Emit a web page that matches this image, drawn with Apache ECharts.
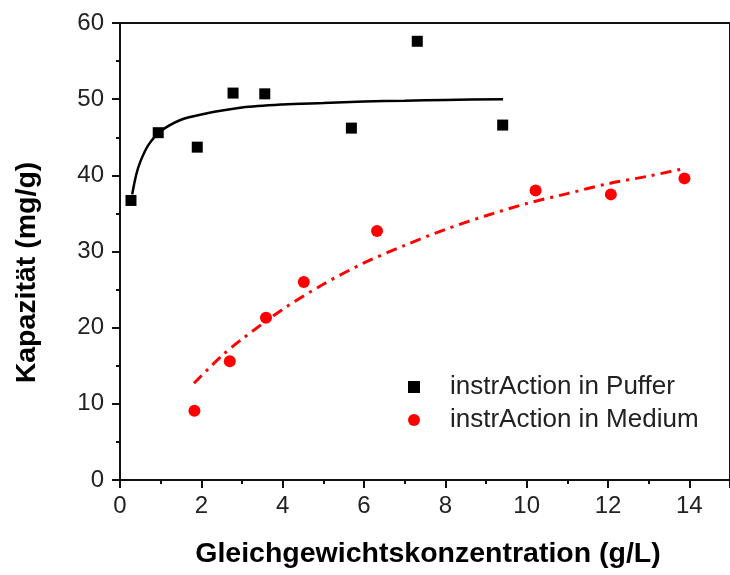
<!DOCTYPE html>
<html>
<head>
<meta charset="utf-8">
<title>Kapazität</title>
<script src="https://cdn.jsdelivr.net/npm/echarts@6/dist/echarts.min.js"></script>
<style>
  html, body { margin: 0; padding: 0; background: #fff; }
  #chart { width: 730px; height: 575px; }
</style>
</head>
<body>
<div id="chart"></div>
<script>
// Measured adsorption capacity, instrAction in buffer
const pufferX = [0.27, 0.94, 1.90, 2.78, 3.56, 5.69, 7.31, 9.41];
const pufferY = [36.7, 45.6, 43.7, 50.8, 50.7, 46.2, 57.6, 46.6];

// Measured adsorption capacity, instrAction in medium
const mediumX = [1.83, 2.70, 3.59, 4.52, 6.32, 10.22, 12.07, 13.88];
const mediumY = [9.1, 15.6, 21.3, 26.0, 32.7, 38.0, 37.5, 39.6];

// Isotherm fit curves (points along the drawn curves)
const pufferFitX = [0.30, 0.40, 0.50, 0.70, 1.0, 1.5, 2.0, 3.0, 4.0, 5.0, 6.0, 7.0, 8.0, 9.42];
const pufferFitY = [37.5, 40.1, 41.8, 44.0, 45.8, 47.3, 48.0, 48.9, 49.3, 49.5, 49.7, 49.8, 49.9, 50.0];
const mediumFitX = [1.82, 2.5, 3, 4, 5, 6, 7, 8, 9, 10, 11, 12, 13, 13.88];
const mediumFitY = [12.7, 16.3, 18.5, 22.4, 25.7, 28.5, 30.8, 32.9, 34.7, 36.3, 37.6, 38.9, 39.9, 40.9];

// Axis texts
const xTitle = 'Gleichgewichtskonzentration (g/L)';
const yTitle = 'Kapazität (mg/g)';
const nameP = 'instrAction in Puffer';
const nameM = 'instrAction in Medium';

const zip = (xs, ys) => xs.map((x, i) => [x, ys[i]]);

const FONT = '"Liberation Sans", Arial, sans-serif';
const AXIS_COLOR = '#111';

const chart = echarts.init(document.getElementById('chart'), null, { renderer: 'canvas' });

chart.setOption({
  animation: false,
  backgroundColor: '#fff',
  grid: {
    left: 120, top: 23, right: -7, bottom: 95,
    show: true, borderColor: AXIS_COLOR, borderWidth: 2,
    containLabel: false
  },
  xAxis: {
    type: 'value', min: 0, max: 15, interval: 2,
    axisLine: { show: true, onZero: false, lineStyle: { color: AXIS_COLOR, width: 2 } },
    axisTick: { show: true, inside: false, length: 8, lineStyle: { color: AXIS_COLOR, width: 2 } },
    minorTick: { show: true, splitNumber: 2, length: 4, lineStyle: { color: AXIS_COLOR, width: 2 } },
    splitLine: { show: false },
    axisLabel: { margin: 14, fontFamily: FONT, fontSize: 24, color: '#222', showMaxLabel: false }
  },
  yAxis: {
    type: 'value', min: 0, max: 60, interval: 10,
    axisLine: { show: true, onZero: false, lineStyle: { color: AXIS_COLOR, width: 2 } },
    axisTick: { show: true, inside: false, length: 8, lineStyle: { color: AXIS_COLOR, width: 2 } },
    minorTick: { show: true, splitNumber: 2, length: 4, lineStyle: { color: AXIS_COLOR, width: 2 } },
    splitLine: { show: false },
    axisLabel: { margin: 16, fontFamily: FONT, fontSize: 24, color: '#222' }
  },
  legend: {
    data: [nameP, nameM],
    orient: 'vertical',
    left: 403, top: 369,
    itemWidth: 12, itemHeight: 12,
    itemGap: 7,
    textStyle: { fontFamily: FONT, fontSize: 26, color: '#222', lineHeight: 26, padding: [0, 0, 0, 25] }
  },
  graphic: [
    {
      type: 'text', x: 428, y: 554.5,
      style: { text: xTitle, font: 'bold 28.5px ' + FONT, fill: '#000', textAlign: 'center', textVerticalAlign: 'middle' }
    },
    {
      type: 'text', x: 27, y: 272.5, rotation: Math.PI / 2,
      style: { text: yTitle, font: 'bold 28.5px ' + FONT, fill: '#000', textAlign: 'center', textVerticalAlign: 'middle' }
    }
  ],
  series: [
    {
      name: 'Puffer fit', type: 'line', data: zip(pufferFitX, pufferFitY),
      smooth: 0.3, showSymbol: false, silent: true,
      lineStyle: { color: '#000', width: 2.5 }, z: 2
    },
    {
      name: 'Medium fit', type: 'line', data: zip(mediumFitX, mediumFitY),
      smooth: 0.3, showSymbol: false, silent: true,
      lineStyle: { color: '#ff0000', width: 3, type: [11, 6, 3, 6] }, z: 2
    },
    {
      name: nameP, type: 'scatter', data: zip(pufferX, pufferY),
      symbol: 'rect', symbolSize: 11,
      itemStyle: { color: '#000', opacity: 1 }, z: 3
    },
    {
      name: nameM, type: 'scatter', data: zip(mediumX, mediumY),
      symbol: 'circle', symbolSize: 12,
      itemStyle: { color: '#ff0000', opacity: 1 }, z: 3
    }
  ]
});
</script>
</body>
</html>
